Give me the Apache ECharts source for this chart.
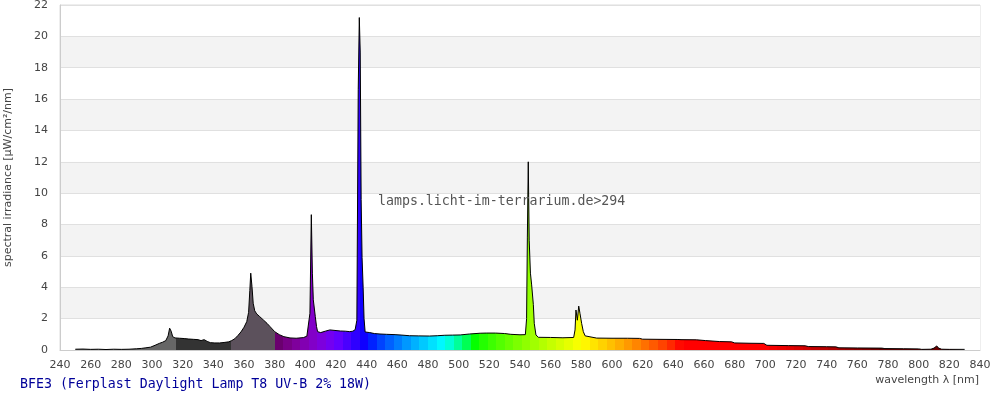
<!DOCTYPE html>
<html>
<head>
<meta charset="utf-8">
<script src="https://cdn.jsdelivr.net/npm/echarts@6/dist/echarts.min.js"></script>
<style>html,body{margin:0;padding:0;background:#fff}#c{width:1000px;height:400px}</style>
</head>
<body>
<div id="c"></div>
<script>
// wavelengths (nm)
var wavelengths = [250,255,260,265,270,275,280,285,290,293,296,299,302,305,307,309,310.5,311.5,312.5,313.5,315,318,321,324,327,330,332,334,336,338,341,344,347,350,352,354,356,358,360,361.8,363,363.8,364.4,365.2,366,367,368.3,370,372.6,375,377,380,383,386,390,394,398.7,401,402,403,403.9,404.6,405.2,406.5,407.3,408,410,413,416,420,423,426,429,431,432.5,433.6,434.5,435.2,435.8,436.4,437,437.7,438.3,439,442,445,448.7,453,458.5,463,468,474,481,486,491,496,501,507,514,518,524,530,534,540,543.5,544.3,544.8,545.4,546,546.8,547.6,548.7,549.3,550.4,552,560,568,575,575.9,576.5,577.4,578.3,579.1,580.2,581.3,582.5,583.5,590,600,610,618,620,630,643,645,655,661,662,670,678,680,690,699,701,715,726,728,740,746,748,760,776,778,790,800,802,808,810,811.8,813,815,820,830];
// spectral irradiance (µW/cm²/nm)
var irradiance = [0.05,0.06,0.04,0.05,0.03,0.05,0.04,0.05,0.08,0.1,0.14,0.18,0.3,0.43,0.5,0.6,0.9,1.39,1.2,0.85,0.77,0.75,0.73,0.70,0.68,0.66,0.6,0.66,0.55,0.47,0.45,0.45,0.48,0.52,0.6,0.72,0.92,1.15,1.45,1.81,2.4,3.8,4.9,4.05,2.98,2.5,2.3,2.15,1.92,1.7,1.49,1.17,0.98,0.85,0.77,0.75,0.79,0.88,0.96,2.34,8.63,4.9,3.2,2.13,1.5,1.17,1.11,1.2,1.28,1.24,1.21,1.2,1.17,1.2,1.3,1.9,16.6,21.2,19.0,9.6,5.9,4.0,2.0,1.15,1.11,1.05,1.02,1.0,0.98,0.95,0.91,0.9,0.89,0.91,0.94,0.95,0.96,1.02,1.07,1.08,1.08,1.05,1.0,0.97,0.98,2.0,7.2,12.0,7.0,4.9,4.15,2.9,1.7,0.96,0.81,0.8,0.78,0.8,1.28,2.55,1.9,2.8,2.34,1.7,1.17,0.9,0.8,0.76,0.75,0.75,0.74,0.69,0.68,0.67,0.66,0.65,0.6,0.54,0.54,0.52,0.45,0.43,0.42,0.3,0.28,0.27,0.22,0.21,0.2,0.14,0.13,0.12,0.09,0.08,0.07,0.04,0.05,0.12,0.26,0.12,0.05,0.04,0.04];
var xTicks = {min: 240, max: 840, step: 20};
var yTicks = {min: 0, max: 22, step: 2};
var titleText = 'BFE3 (Ferplast Daylight Lamp T8 UV-B 2% 18W)';
var watermarkText = 'lamps.licht-im-terrarium.de>294';
var xName = 'wavelength \u03bb [nm]';
var yName = 'spectral irradiance [\u00b5W/cm\u00b2/nm]';

// UV bands below visible light (grey shading)
var uvBands = [[240, 315.5, '#666666'], [315.5, 351.5, '#333333'], [351.5, 380, '#5c515c']];

function wlColor(w) {
  var r = 0, g = 0, b = 0;
  if (w < 440) { r = -(w - 440) / 60; b = 1; }
  else if (w < 490) { g = (w - 440) / 50; b = 1; }
  else if (w < 510) { g = 1; b = -(w - 510) / 20; }
  else if (w < 580) { r = (w - 510) / 70; g = 1; }
  else if (w < 645) { r = 1; g = -(w - 645) / 65; }
  else { r = 1; }
  var f = 1;
  if (w < 420) f = 0.3 + 0.7 * (w - 380) / 40;
  else if (w > 700) f = 0.3 + 0.7 * (780 - Math.min(w, 780)) / 80;
  function c(v) { return Math.round(255 * Math.pow(v * f, 0.8)); }
  function h(n) { var s = n.toString(16); return s.length < 2 ? '0' + s : s; }
  return '#' + h(c(r)) + h(c(g)) + h(c(b));
}

var pieces = [];
uvBands.forEach(function (b) { pieces.push({gte: b[0], lt: b[1], color: b[2]}); });
var nBlocks = 72, bw = 400 / nBlocks;
for (var i = 0; i < nBlocks; i++) {
  var a = 380 + i * bw;
  pieces.push({gte: a, lt: a + bw, color: wlColor(a + bw / 2)});
}
pieces.push({gte: 780, lte: 840, color: '#6a0000'});

var data = wavelengths.map(function (w, i) { return [w, irradiance[i]]; });

var chart = echarts.init(document.getElementById('c'), null, {renderer: 'canvas'});
var font = 'DejaVu Sans';
chart.setOption({
  animation: false,
  backgroundColor: '#fff',
  grid: {left: 60, right: 20, top: 5, bottom: 50, containLabel: false, outerBoundsMode: 'none', show: true, borderColor: '#dddddd', borderWidth: 1, backgroundColor: 'transparent'},
  visualMap: {type: 'piecewise', show: false, dimension: 0, seriesIndex: 0, pieces: pieces, outOfRange: {color: '#666666'}},
  xAxis: {
    type: 'value', min: xTicks.min, max: xTicks.max, interval: xTicks.step,
    axisLine: {show: true, lineStyle: {color: '#cccccc'}},
    axisTick: {show: false},
    axisLabel: {color: '#444', fontFamily: font, fontSize: 11, margin: 10},
    splitLine: {show: false}
  },
  yAxis: {
    type: 'value', min: yTicks.min, max: yTicks.max, interval: yTicks.step,
    name: yName, nameLocation: 'middle', nameGap: 46,
    nameTextStyle: {color: '#444', fontFamily: font, fontSize: 11},
    axisLine: {show: true, lineStyle: {color: '#cccccc'}},
    axisTick: {show: false},
    axisLabel: {color: '#444', fontFamily: font, fontSize: 11, margin: 12},
    splitLine: {show: true, lineStyle: {color: '#e0e0e0'}},
    splitArea: {show: true, areaStyle: {color: ['#ffffff', '#f3f3f3']}}
  },
  graphic: [
    {type: 'text', left: 20, top: 378, style: {text: titleText, fill: '#000099', font: '13.25px "DejaVu Sans Mono"'}},
    {type: 'text', right: 21, top: 375, style: {text: xName, fill: '#444', font: '11px "DejaVu Sans"'}},
    {type: 'text', left: 378, top: 195, z: 100, style: {text: watermarkText, fill: '#555', font: '13.25px "DejaVu Sans Mono"'}}
  ],
  series: [
    {type: 'line', data: data, symbol: 'none', lineStyle: {width: 0}, areaStyle: {opacity: 1}, z: 2},
    {type: 'line', data: data, symbol: 'none', lineStyle: {width: 1, color: '#000'}, z: 3}
  ]
});
</script>
</body>
</html>
